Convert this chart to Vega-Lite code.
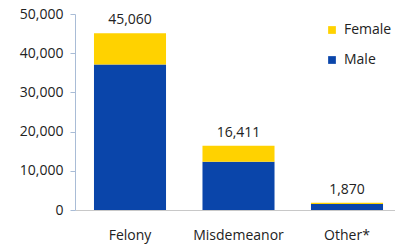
{
  "$schema": "https://vega.github.io/schema/vega-lite/v6.json",
  "autosize": {"type": "none"},
  "padding": {"left": 75, "top": 14, "right": 0, "bottom": 36},
  "width": 320,
  "height": 196,
  "background": "white",
  "config": {
    "view": {"stroke": null},
    "font": "Open Sans",
    "axis": {"labelFont": "Open Sans", "labelFontSize": 14, "labelColor": "#222", "grid": false, "title": null, "labelOverlap": false}
  },
  "data": {
    "values": [
      {"category": "Felony", "sex": "Male", "value": 37100},
      {"category": "Felony", "sex": "Female", "value": 7960},
      {"category": "Misdemeanor", "sex": "Male", "value": 12300},
      {"category": "Misdemeanor", "sex": "Female", "value": 4111},
      {"category": "Other*", "sex": "Male", "value": 1500},
      {"category": "Other*", "sex": "Female", "value": 370}
    ]
  },
  "encoding": {
    "x": {
      "field": "category", "type": "nominal", "sort": null,
      "scale": {"paddingInner": 0.336, "paddingOuter": 0.1427, "align": 0.613},
      "axis": {"labelAngle": 0, "ticks": false, "labelPadding": 18, "domainColor": "#c8c8c8", "labelFontSize": 14}
    }
  },
  "layer": [
    {
      "mark": {"type": "bar"},
      "encoding": {
        "y": {
          "field": "value", "type": "quantitative", "aggregate": "sum", "stack": "zero",
          "scale": {"domain": [0, 50000]},
          "axis": {"values": [0, 10000, 20000, 30000, 40000, 50000], "format": ",d", "domainColor": "#a9bcd6", "tickColor": "#a9bcd6", "tickSize": 5, "labelPadding": 7, "labelFlush": false}
        },
        "color": {
          "field": "sex", "type": "nominal",
          "scale": {"domain": ["Female", "Male"], "range": ["#ffd200", "#0a45aa"]},
          "legend": {
            "title": null, "orient": "none", "legendX": 250, "legendY": 9,
            "symbolType": "square", "symbolSize": 60, "symbolStrokeWidth": 0,
            "labelFontSize": 14, "labelColor": "#222", "labelOffset": 5, "rowPadding": 16
          }
        },
        "order": {"field": "sex", "sort": "descending"}
      }
    },
    {
      "transform": [{"aggregate": [{"op": "sum", "field": "value", "as": "total"}], "groupby": ["category"]}],
      "mark": {"type": "text", "baseline": "middle", "dy": -13, "fontSize": 14, "color": "#222"},
      "encoding": {
        "y": {
          "field": "total", "type": "quantitative",
          "scale": {"domain": [0, 50000]},
          "axis": {"values": [0, 10000, 20000, 30000, 40000, 50000], "format": ",d", "domainColor": "#a9bcd6", "tickColor": "#a9bcd6", "tickSize": 5, "labelPadding": 7, "labelFlush": false}
        },
        "text": {"field": "total", "type": "quantitative", "format": ",d"}
      }
    }
  ]
}
